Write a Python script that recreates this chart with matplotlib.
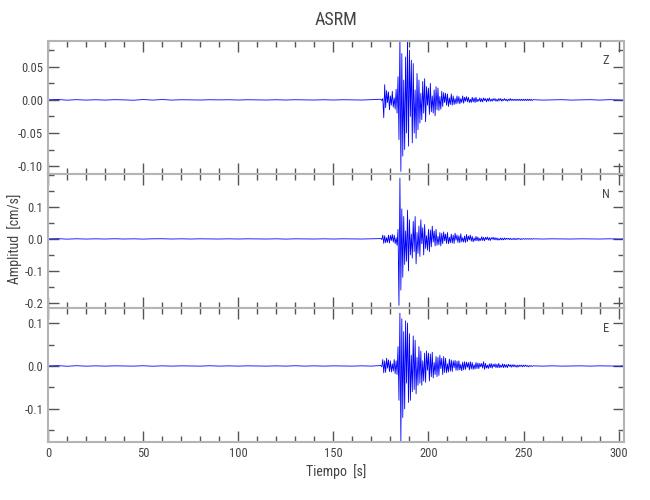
import numpy as np
import matplotlib
matplotlib.use("Agg")
import matplotlib.pyplot as plt
from matplotlib.ticker import MultipleLocator, FixedLocator, FormatStrFormatter
from matplotlib import font_manager

# ---------------- data ----------------
title = "ASRM"
components = ["Z", "N", "E"]
xlabel = "Tiempo  [s]"
ylabel = "Amplitud  [cm/s]"

# quiet pre-event part: one value every 5 s from 0 s
z_pre = [0.0000, 0.0006, -0.0004, 0.0003, -0.0003, 0.0002, -0.0003, 0.0003, 0.0000, -0.0005,
         0.0005, -0.0003, 0.0005, -0.0003, 0.0002, 0.0000, -0.0002, 0.0002, 0.0000, 0.0002,
         -0.0002, 0.0002, 0.0000, -0.0002, 0.0002, -0.0002, 0.0002, 0.0000, -0.0002, 0.0002,
         -0.0002, 0.0002, 0.0000, -0.0002, 0.0003]
n_pre = [0.0000, 0.0008, -0.0006, 0.0004, -0.0004, 0.0003, -0.0003, 0.0005, -0.0003, 0.0003,
         -0.0005, 0.0003, 0.0005, -0.0003, 0.0003, -0.0003, 0.0003, 0.0000, -0.0003, 0.0003,
         -0.0003, 0.0003, 0.0000, -0.0003, 0.0003, -0.0005, 0.0003, 0.0000, -0.0003, 0.0003,
         -0.0003, 0.0003, 0.0000, -0.0003, 0.0003]
e_pre = [0.0000, 0.0008, -0.0006, 0.0006, -0.0004, 0.0003, -0.0003, 0.0003, 0.0000, -0.0003,
         0.0005, -0.0005, 0.0003, -0.0003, 0.0003, 0.0000, -0.0003, 0.0005, -0.0003, 0.0003,
         -0.0003, 0.0003, 0.0000, -0.0003, 0.0003, -0.0003, 0.0005, -0.0003, 0.0003, -0.0003,
         0.0003, 0.0000, -0.0003, 0.0003, -0.0003]

# event part: one value every 0.5 s from 175 s
z_evt = [0.001, -0.001, 0.002, -0.027, 0.023, -0.012, 0.014, -0.004, 0.012, -0.015,
         0.006, -0.008, 0.013, -0.011, 0.003, -0.014, 0.016, -0.020, 0.035, -0.060,
         0.095, -0.108, 0.070, -0.085, 0.030, -0.075, 0.065, -0.050, 0.092, -0.070,
         0.075, -0.025, 0.060, -0.065, 0.055, -0.050, 0.015, -0.058, 0.040, -0.045,
         0.030, -0.035, 0.010, -0.030, 0.028, -0.020, 0.032, -0.033, 0.020, -0.008,
         0.018, -0.022, 0.025, -0.018, 0.006, -0.020, 0.015, -0.024, 0.020, -0.015,
         0.018, -0.016, 0.005, -0.014, 0.013, -0.010, 0.011, -0.004, 0.010, -0.008,
         0.009, -0.010, 0.003, -0.007, 0.009, -0.008, 0.006, -0.007, 0.002, -0.006,
         0.006, -0.005, 0.005, -0.006, 0.002, -0.004, 0.006, -0.005, 0.004, -0.002,
         0.005, -0.003, 0.004, -0.004, 0.001, -0.004, 0.004, -0.003, 0.003, -0.004,
         0.004, -0.003, 0.001, -0.002, 0.003, -0.003, 0.002, -0.003, 0.003, -0.001,
         0.002, -0.003, 0.002, -0.002, 0.003, -0.002, 0.001, -0.002, 0.002, -0.001,
         0.002, -0.002, 0.001, -0.002, 0.002, -0.001, 0.002, -0.002, 0.001, -0.001,
         0.002, -0.001, 0.001, -0.002, 0.001, -0.001, 0.002, -0.001, 0.001, -0.001,
         0.001, -0.001, 0.001, -0.001, 0.001, -0.001, 0.001, -0.001, 0.001, -0.001,
         0.001, -0.001, 0.001, -0.001, 0.001, -0.001, 0.001, -0.001, 0.001, -0.001]
n_evt = [0.001, -0.002, 0.012, -0.014, 0.010, -0.012, 0.004, -0.011, 0.012, -0.013,
         0.011, -0.005, 0.014, -0.010, 0.012, -0.015, 0.004, -0.020, 0.030, -0.208,
         0.190, -0.160, 0.094, -0.120, 0.070, -0.080, 0.025, -0.070, 0.090, -0.100,
         0.060, -0.050, 0.015, -0.060, 0.055, -0.040, 0.070, -0.078, 0.020, -0.045,
         0.040, -0.055, 0.060, -0.015, 0.035, -0.050, 0.045, -0.030, 0.010, -0.035,
         0.030, -0.040, 0.028, -0.025, 0.040, -0.010, 0.025, -0.022, 0.030, -0.020,
         0.008, -0.018, 0.020, -0.022, 0.018, -0.015, 0.022, -0.006, 0.015, -0.014,
         0.020, -0.015, 0.005, -0.012, 0.015, -0.013, 0.012, -0.014, 0.018, -0.004,
         0.012, -0.011, 0.010, -0.012, 0.016, -0.009, 0.004, -0.010, 0.009, -0.011,
         0.014, -0.008, 0.009, -0.003, 0.012, -0.007, 0.008, -0.009, 0.003, -0.006,
         0.008, -0.006, 0.006, -0.007, 0.002, -0.005, 0.007, -0.005, 0.005, -0.006,
         0.005, -0.002, 0.006, -0.004, 0.004, -0.005, 0.004, -0.001, 0.005, -0.003,
         0.004, -0.003, 0.003, -0.004, 0.001, -0.003, 0.003, -0.003, 0.002, -0.003,
         0.003, -0.002, 0.002, -0.001, 0.002, -0.002, 0.002, -0.002, 0.001, -0.002,
         0.002, -0.002, 0.001, -0.002, 0.002, -0.001, 0.001, -0.002, 0.001, -0.001,
         0.001, -0.001, 0.001, -0.001, 0.001, -0.001, 0.001, -0.001, 0.001, -0.001]
e_evt = [0.001, -0.002, 0.015, -0.016, 0.012, -0.015, 0.018, -0.005, 0.014, -0.013,
         0.012, -0.014, 0.005, -0.012, 0.015, -0.018, 0.012, -0.020, 0.045, -0.080,
         0.123, -0.175, 0.110, -0.120, 0.080, -0.100, 0.105, -0.040, 0.100, -0.085,
         0.075, -0.080, 0.025, -0.060, 0.070, -0.055, 0.060, -0.065, 0.020, -0.045,
         0.045, -0.040, 0.035, -0.045, 0.012, -0.035, 0.030, -0.038, 0.035, -0.010,
         0.030, -0.035, 0.028, -0.025, 0.032, -0.028, 0.008, -0.020, 0.022, -0.025,
         0.020, -0.022, 0.025, -0.006, 0.018, -0.020, 0.022, -0.015, 0.018, -0.016,
         0.005, -0.014, 0.016, -0.012, 0.014, -0.013, 0.012, -0.004, 0.013, -0.010,
         0.011, -0.010, 0.012, -0.009, 0.004, -0.011, 0.009, -0.009, 0.010, -0.008,
         0.009, -0.003, 0.008, -0.009, 0.010, -0.007, 0.008, -0.008, 0.003, -0.007,
         0.008, -0.006, 0.007, -0.006, 0.006, -0.002, 0.006, -0.005, 0.010, -0.008,
         0.006, -0.005, 0.002, -0.006, 0.005, -0.004, 0.006, -0.005, 0.004, -0.002,
         0.005, -0.004, 0.004, -0.004, 0.006, -0.004, 0.002, -0.003, 0.005, -0.004,
         0.004, -0.003, 0.003, -0.004, 0.004, -0.001, 0.003, -0.003, 0.003, -0.002,
         0.003, -0.002, 0.002, -0.003, 0.002, -0.002, 0.002, -0.001, 0.002, -0.002,
         0.002, -0.001, 0.002, -0.001, 0.001, -0.002, 0.001, -0.001, 0.001, -0.001]

# quiet post-event part: one value every 5 s from 255 s, last at 302.5 s
z_post = [0.0003, -0.0003, 0.0000, 0.0003, -0.0003, 0.0000, 0.0003, -0.0003, 0.0003, 0.0000, -0.0003]
n_post = [0.0003, -0.0003, 0.0003, 0.0000, -0.0003, 0.0003, 0.0000, -0.0003, 0.0003, -0.0003, 0.0000]
e_post = [0.0003, -0.0003, 0.0003, -0.0003, 0.0000, 0.0003, -0.0003, 0.0003, 0.0000, -0.0003, 0.0003]

xlim = (0, 302.8)
ylims = [(-0.112, 0.089), (-0.216, 0.203), (-0.177, 0.135)]
ymajor = [[-0.10, -0.05, 0.0, 0.05], [-0.2, -0.1, 0.0, 0.1], [-0.1, 0.0, 0.1]]
yminor = [0.025, 0.05, 0.05]
yfmt = ["%.2f", "%.1f", "%.1f"]

# ---------------- drawing ----------------
names = {f.name for f in font_manager.fontManager.ttflist}
fam = [n for n in ["Liberation Sans Narrow", "Roboto Condensed", "DejaVu Sans"] if n in names]
plt.rcParams['font.family'] = fam or ['DejaVu Sans']
plt.rcParams['axes.unicode_minus'] = True

fig = plt.figure(figsize=(6.5, 5.0), dpi=100)
L, R = 48 / 650, 624 / 650
tops = [41, 174, 308]
bots = [174, 308, 442]

spine_c = "#b4b4b4"
tick_c = "#555555"
text_c = "#444444"

traces = [(z_pre, z_evt, z_post), (n_pre, n_evt, n_post), (e_pre, e_evt, e_post)]

axes = []
for i in range(3):
    b = 1 - bots[i] / 500
    h = (bots[i] - tops[i]) / 500
    ax = fig.add_axes([L, b, R - L, h])
    axes.append(ax)
    pre, evt, post = traces[i]
    t_pre = 5.0 * np.arange(len(pre))
    t_evt = 175.0 + 0.5 * np.arange(len(evt))
    t_post = np.append(255.0 + 5.0 * np.arange(len(post) - 1), 302.5)
    t = np.concatenate([t_pre, t_evt, t_post])
    y = np.concatenate([pre, evt, post])
    ax.plot(t, y, color="#0000ff", lw=0.6)
    ax.set_xlim(*xlim)
    ax.set_ylim(*ylims[i])
    ax.xaxis.set_major_locator(MultipleLocator(50))
    ax.xaxis.set_minor_locator(MultipleLocator(10))
    ax.yaxis.set_major_locator(FixedLocator(ymajor[i]))
    ax.yaxis.set_minor_locator(MultipleLocator(yminor[i]))
    ax.yaxis.set_major_formatter(FormatStrFormatter(yfmt[i]))
    ax.tick_params(which="both", direction="in", top=True, right=True,
                   color=tick_c, labelcolor=text_c, labelsize=9, width=1.0)
    ax.tick_params(which="major", length=8)
    ax.tick_params(which="minor", length=4)
    for s in ax.spines.values():
        s.set_color(spine_c)
        s.set_linewidth(1.5)
    if i < 2:
        ax.tick_params(labelbottom=False)
    ax.text(0.969, 0.85, components[i], transform=ax.transAxes,
            ha="center", va="center", fontsize=9, color=text_c)

axes[-1].set_xlabel(xlabel, fontsize=10, color=text_c, labelpad=3)
fig.text(0.022, 1 - 239 / 500, ylabel, rotation=90, ha="center", va="center",
         fontsize=10, color=text_c)
fig.text((L + R) / 2, 1 - 20 / 500, title, ha="center", va="center",
         fontsize=13, color=text_c)

fig.savefig("out.png", dpi=100)
